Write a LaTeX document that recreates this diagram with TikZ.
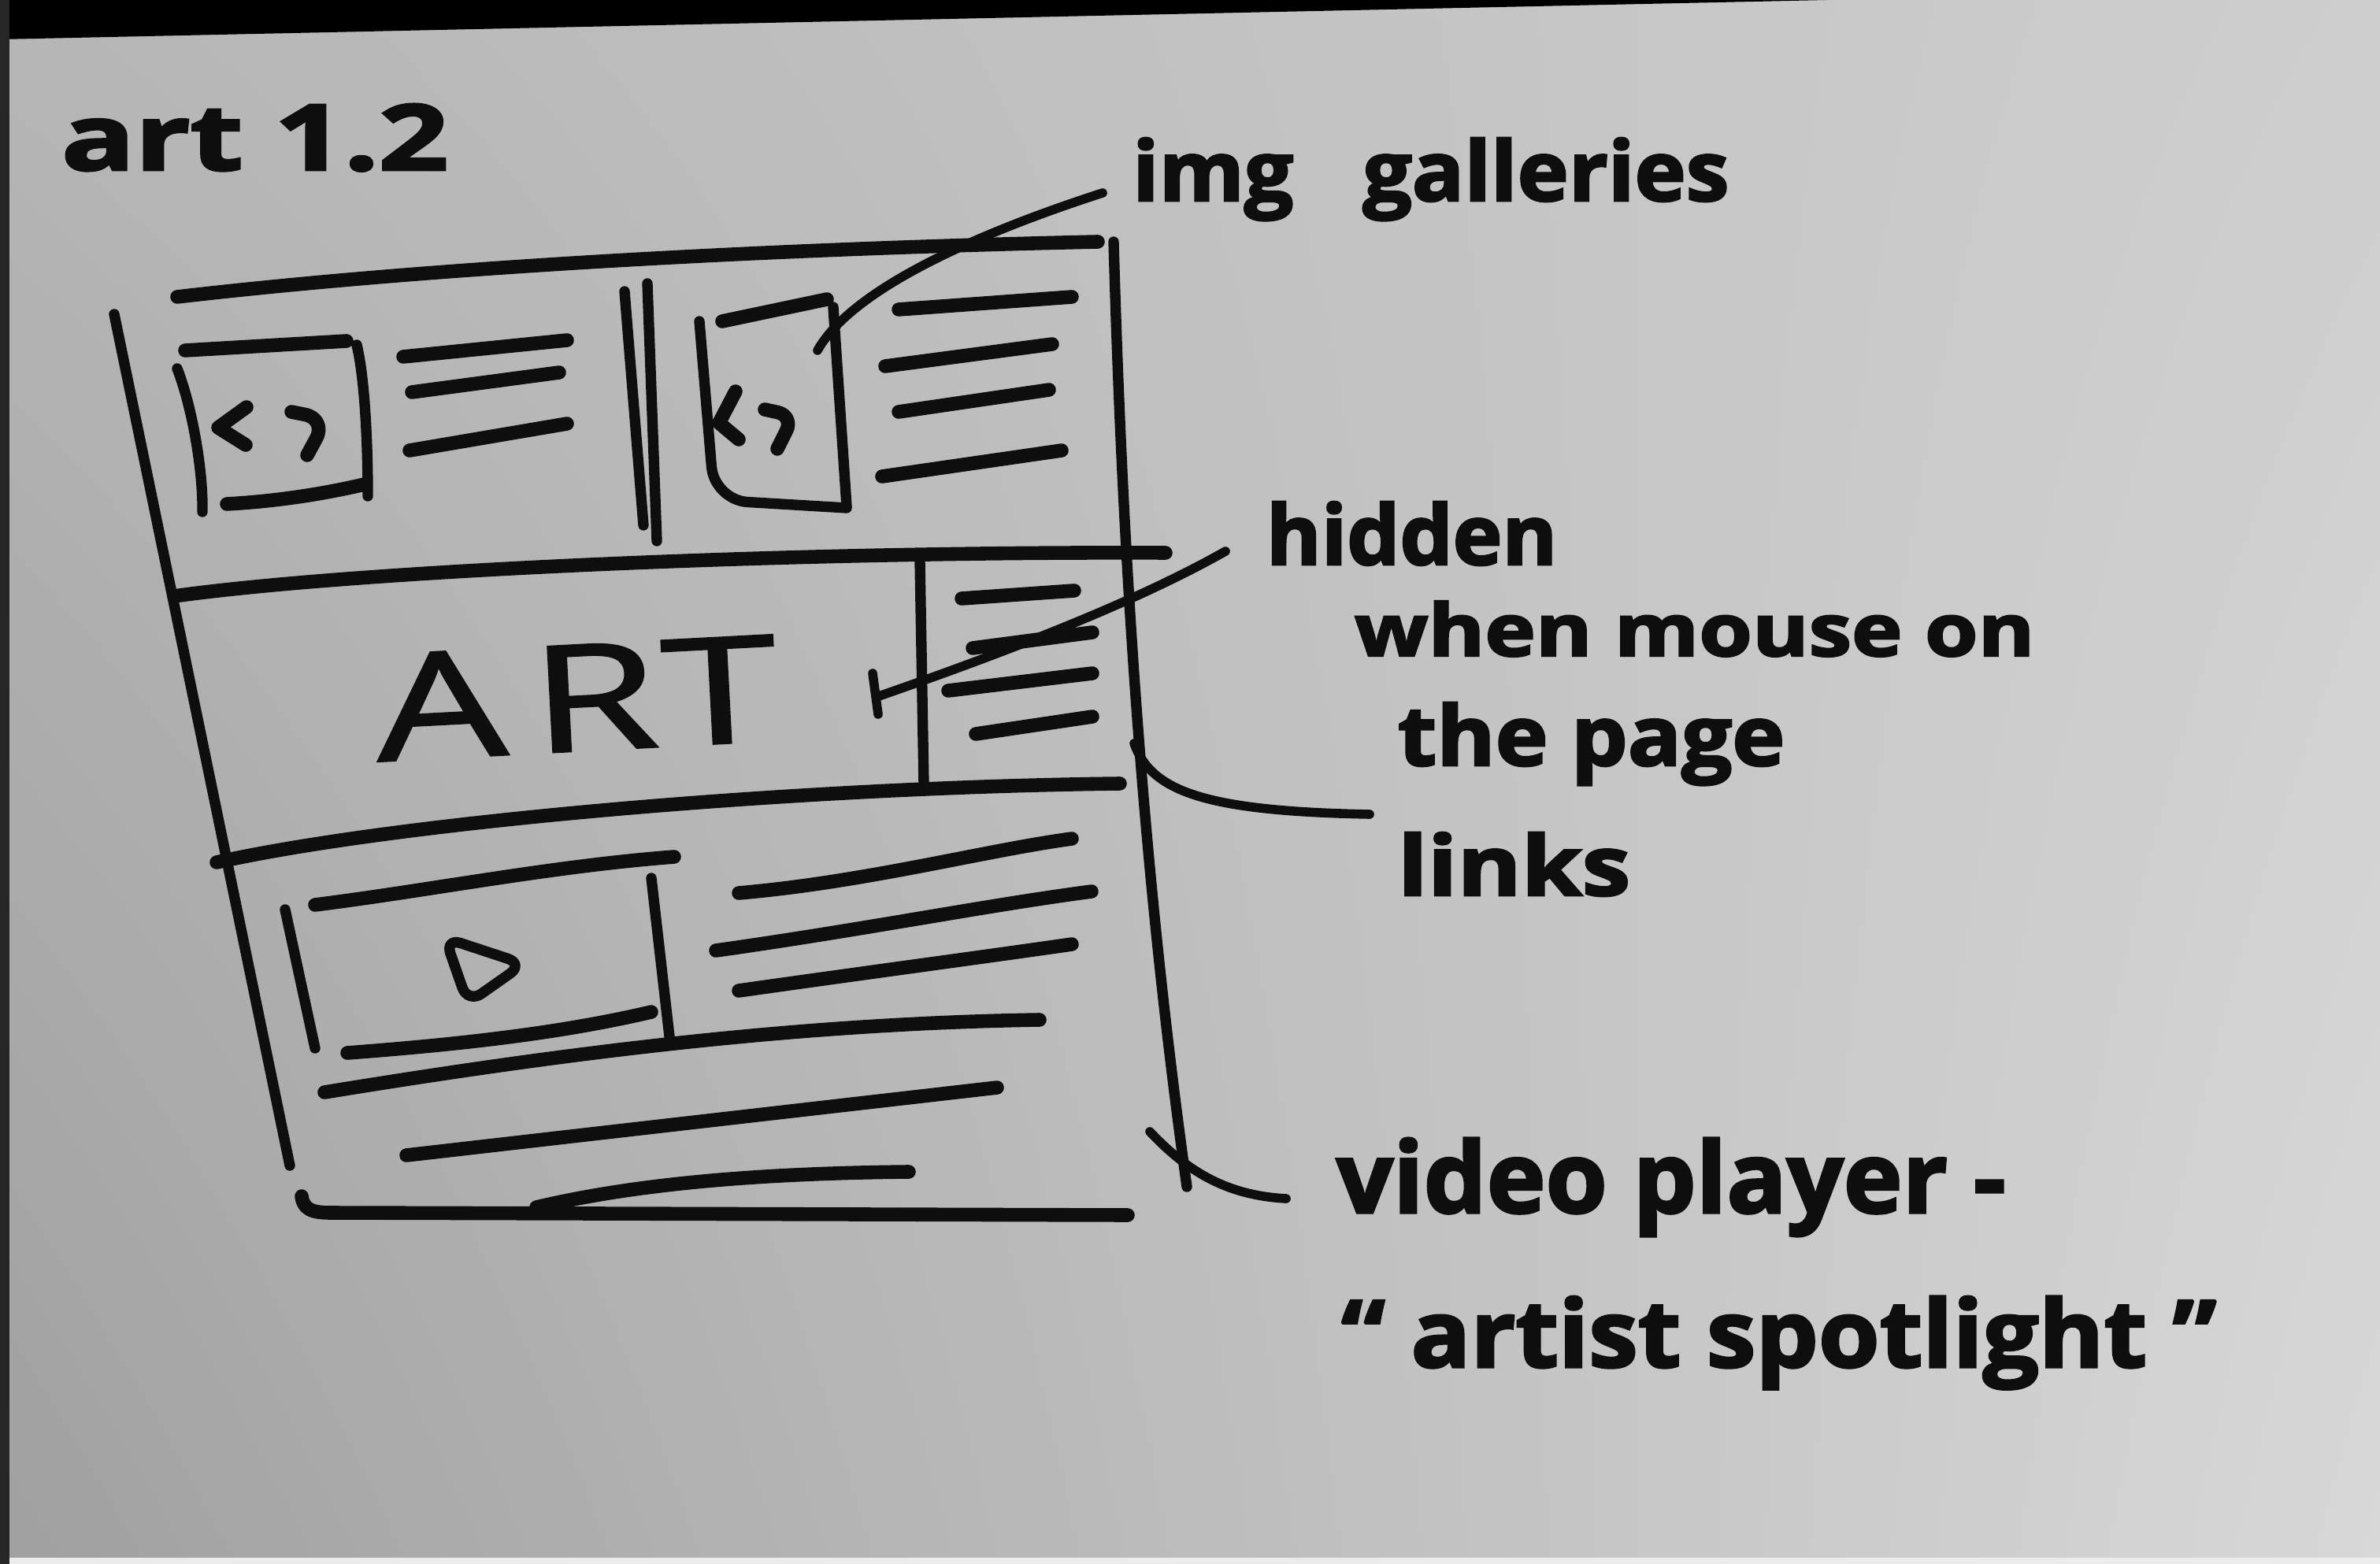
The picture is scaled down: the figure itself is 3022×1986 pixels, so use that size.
\documentclass[tikz,border=0pt]{standalone}
\usepackage{fontspec}
\usepackage{graphicx}
\usetikzlibrary{shadings}
\newfontfamily\markerfont{Open Sans}[BoldFeatures={FakeBold=2.5}]
\newfontfamily\bannerfont{Open Sans}[FakeBold=1.2]
\definecolor{ink}{RGB}{14,14,14}
\definecolor{paperUL}{RGB}{182,182,182}
\definecolor{paperUR}{RGB}{206,206,206}
\definecolor{paperLL}{RGB}{160,160,160}
\definecolor{paperLR}{RGB}{216,216,216}
% scribbled label: width and height of the lettering given explicitly
\newcommand\scrawl[3]{\resizebox{#1}{#2}{#3}}
\begin{document}
\begin{tikzpicture}[x=0.01cm,y=-0.01cm,
  pen/.style={draw=ink,line width=5pt,line cap=round,line join=round},
  fine/.style={draw=ink,line width=3.8pt,line cap=round,line join=round},
  lead/.style={draw=ink,line width=3.3pt,line cap=round,line join=round},
  hand/.style={anchor=base west,inner sep=0pt,outer sep=0pt,text=ink,font=\markerfont\bfseries}]

% sheet of paper
\useasboundingbox (0,0) rectangle (3022,1986);
\shade[upper left=paperUL,upper right=paperUR,lower left=paperLL,lower right=paperLR]
  (0,0) rectangle (3022,1986);
\fill[black] (0,0) -- (0,50) -- (2320,0) -- cycle;
\fill[ink!90] (0,0) rectangle (12,1986);
\fill[white!85!gray] (12,1978) rectangle (3022,1986);

% title
\node[hand] (title) at (78,216) {\scrawl{4.91cm}{0.84cm}{art 1.2}};

% page outline
\draw[pen] (225,377) .. controls (500,345) and (900,318) .. (1394,307);
\draw[fine] (145,399) -- (368,1480);
\draw[fine] (1414,307) .. controls (1425,700) and (1450,1100) .. (1507,1507);
\draw[pen] (383,1519) .. controls (385,1535) and (395,1540) .. (420,1540) -- (1432,1543);
\draw[pen] (681,1533) .. controls (800,1505) and (950,1490) .. (1154,1488);

% section dividers
\draw[pen] (221,757) .. controls (450,725) and (1000,700) .. (1480,702);
\draw[pen] (275,1095) .. controls (500,1045) and (1000,1000) .. (1422,995);

% gallery row: first gallery
\draw[pen] (235,445) -- (440,433);
\draw[fine] (225,468) .. controls (245,520) and (258,600) .. (257,650);
\draw[fine] (453,438) .. controls (463,480) and (467,560) .. (467,630);
\draw[pen] (288,640) .. controls (360,636) and (420,625) .. (463,615);
\draw[pen] (313,517) -- (277,543) -- (312,565);
\draw[pen,rounded corners=8] (370,523) -- (415,532) -- (390,578);
\draw[pen] (512,453) -- (720,432);
\draw[pen] (523,498) -- (710,473);
\draw[pen] (520,572) -- (720,538);

% gallery row: double separator
\draw[fine] (793,370) -- (817,667);
\draw[fine] (822,360) -- (834,687);

% gallery row: second gallery
\draw[pen] (917,408) -- (1050,380);
\draw[fine,rounded corners=12] (888,408) -- (907,635) -- (1075,645);
\draw[fine] (1058,390) -- (1075,643);
\draw[pen] (934,497) -- (913,537) -- (938,558);
\draw[pen,rounded corners=6] (971,520) -- (1008,528) -- (987,570);
\draw[pen] (1141,393) -- (1361,377);
\draw[pen] (1124,465) -- (1336,437);
\draw[pen] (1141,523) -- (1332,495);
\draw[pen] (1120,605) -- (1348,572);

% banner row
\node[hand,font=\bannerfont,rotate=3] (banner) at (480,967)
  {\scrawl{5.1cm}{1.35cm}{A\hspace{0.12em}R\hspace{0.02em}T}};
\draw[fine] (1168,712) -- (1173,997);
\draw[pen] (1221,760) -- (1364,750);
\draw[pen] (1235,823) -- (1387,803);
\draw[pen] (1204,877) -- (1387,855);
\draw[pen] (1239,932) -- (1387,910);

% video row
\draw[pen] (400,1149) .. controls (550,1130) and (700,1100) .. (856,1088);
\draw[fine] (362,1155) -- (400,1331);
\draw[fine] (827,1115) -- (851,1325);
\draw[pen] (441,1337) .. controls (600,1325) and (720,1310) .. (827,1285);
\draw[fine,rounded corners=6] (565,1191) -- (665,1224) -- (594,1274) -- cycle;
\draw[pen] (938,1134) .. controls (1100,1120) and (1250,1080) .. (1361,1065);
\draw[pen] (909,1207) .. controls (1100,1180) and (1250,1150) .. (1386,1132);
\draw[pen] (938,1258) .. controls (1100,1235) and (1250,1215) .. (1361,1199);
\draw[pen] (412,1387) .. controls (700,1340) and (1000,1300) .. (1320,1295);
\draw[pen] (516,1467) -- (1266,1381);

% annotations
\node[hand] (gal) at (1438,255) {\scrawl{7.57cm}{0.80cm}{img\hspace{0.8em}galleries}};
\node[hand] (hid1) at (1608,717) {\scrawl{3.69cm}{0.80cm}{hidden}};
\node[hand] (hid2) at (1720,833) {\scrawl{8.63cm}{0.70cm}{when mouse on}};
\node[hand] (hid3) at (1775,972) {\scrawl{4.91cm}{0.80cm}{the page}};
\node[hand] (lnk) at (1775,1137) {\scrawl{2.95cm}{0.80cm}{links}};
\node[hand] (vid1) at (1697,1540) {\scrawl{8.49cm}{0.95cm}{video player -}};
\node[hand] (vid2) at (1703,1736) {\scrawl{11.11cm}{0.90cm}{“ artist spotlight ”}};

% leader lines
\coordinate (galFrom) at (1400,245);
\coordinate (galTo) at (1038,445);
\coordinate (hidFrom) at (1556,700);
\coordinate (hidTo) at (1116,884);
\coordinate (tickTop) at (1108,855);
\coordinate (tickBot) at (1115,907);
\coordinate (lnkFrom) at (1739,1034);
\coordinate (lnkTo) at (1440,944);
\coordinate (vidFrom) at (1633,1522);
\coordinate (vidTo) at (1460,1437);
\draw[lead] (galFrom) .. controls (1230,300) and (1080,370) .. (galTo);
\draw[lead] (hidFrom) .. controls (1450,760) and (1300,820) .. (hidTo);
\draw[lead] (tickTop) -- (tickBot);
\draw[lead] (lnkFrom) .. controls (1530,1030) and (1462,1005) .. (lnkTo);
\draw[lead] (vidFrom) .. controls (1560,1518) and (1510,1490) .. (vidTo);
\end{tikzpicture}
\end{document}
